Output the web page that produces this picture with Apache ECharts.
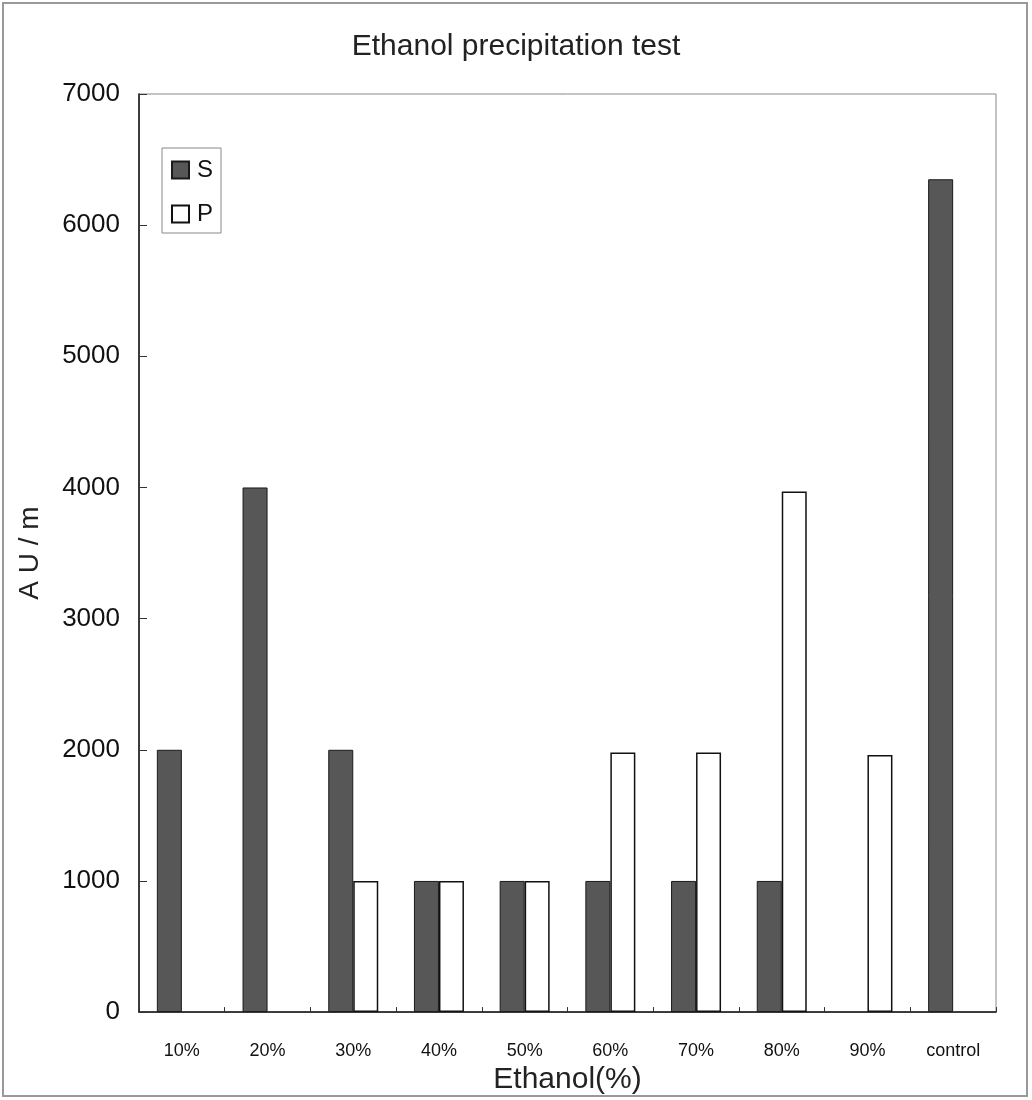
<!DOCTYPE html>
<html>
<head>
<meta charset="utf-8">
<script src="https://cdn.jsdelivr.net/npm/echarts@6/dist/echarts.min.js"></script>
<style>
  html, body { margin: 0; padding: 0; background: #fff; }
  #chart { width: 1032px; height: 1100px; }
</style>
</head>
<body>
<div id="chart"></div>
<script>
const categories = ['10%', '20%', '30%', '40%', '50%', '60%', '70%', '80%', '90%', 'control'];
const seriesS = [2000, 4000, 2000, 1000, 1000, 1000, 1000, 1000, null, 6350];
const seriesP = [null, null, 1000, 1000, 1000, 1980, 1980, 3970, 1960, null];
const yTicks = [0, 1000, 2000, 3000, 4000, 5000, 6000, 7000];

const chart = echarts.init(document.getElementById('chart'), null, { renderer: 'canvas' });
const FONT = "'Liberation Sans', Arial, sans-serif";

chart.setOption({
  backgroundColor: '#ffffff',
  animation: false,
  title: {
    text: 'Ethanol precipitation test',
    left: 'center',
    top: 27,
    textStyle: { fontFamily: FONT, fontSize: 30, fontWeight: 'normal', color: '#222' }
  },
  graphic: [{
    type: 'rect',
    shape: { x: 3, y: 3, width: 1024, height: 1093 },
    style: { fill: 'none', stroke: '#999', lineWidth: 2 },
    silent: true
  }],
  legend: {
    orient: 'vertical',
    left: 162,
    top: 148,
    padding: [10, 8, 7, 9],
    itemWidth: 17,
    itemHeight: 17,
    itemGap: 20,
    borderColor: '#888',
    borderWidth: 1,
    icon: 'rect',
    textStyle: { fontFamily: FONT, fontSize: 24, color: '#111', padding: [0, 0, 0, 3] },
    data: ['S', 'P']
  },
  grid: {
    left: 139, right: 36, top: 94, bottom: 86,
    show: true, borderColor: '#888', borderWidth: 1, backgroundColor: 'transparent'
  },
  xAxis: {
    type: 'category',
    data: categories,
    name: 'Ethanol(%)',
    nameLocation: 'middle',
    nameGap: 48,
    nameTextStyle: { fontFamily: FONT, fontSize: 30, color: '#222' },
    axisLine: { lineStyle: { color: '#111', width: 1.5 } },
    axisTick: { show: true, inside: true, length: 5, lineStyle: { color: '#333' } },
    axisLabel: { fontFamily: "'Liberation Sans Narrow', 'Liberation Sans', Arial, sans-serif", fontSize: 18, color: '#111', margin: 30 },
    splitLine: { show: false }
  },
  yAxis: {
    type: 'value',
    min: 0, max: 7000, interval: 1000,
    name: 'A U / m',
    nameLocation: 'middle',
    nameGap: 95,
    nameRotate: 90,
    nameTextStyle: { fontFamily: FONT, fontSize: 28, color: '#222' },
    axisLine: { show: true, lineStyle: { color: '#111', width: 1.5 } },
    axisTick: { show: true, inside: true, length: 8, lineStyle: { color: '#333' } },
    axisLabel: {
      fontFamily: FONT, fontSize: 26, color: '#111', margin: 19,
      formatter: function (v) { return yTicks.indexOf(v) >= 0 ? String(v) : ''; }
    },
    splitLine: { show: false }
  },
  series: [
    {
      name: 'S',
      type: 'bar',
      data: seriesS,
      barWidth: 25,
      barGap: '0%',
      itemStyle: { color: '#575757', borderColor: '#1a1a1a', borderWidth: 1 }
    },
    {
      name: 'P',
      type: 'bar',
      data: seriesP,
      barWidth: 25,
      barGap: '0%',
      itemStyle: { color: '#ffffff', borderColor: '#111', borderWidth: 1.5 }
    }
  ]
});
</script>
</body>
</html>
